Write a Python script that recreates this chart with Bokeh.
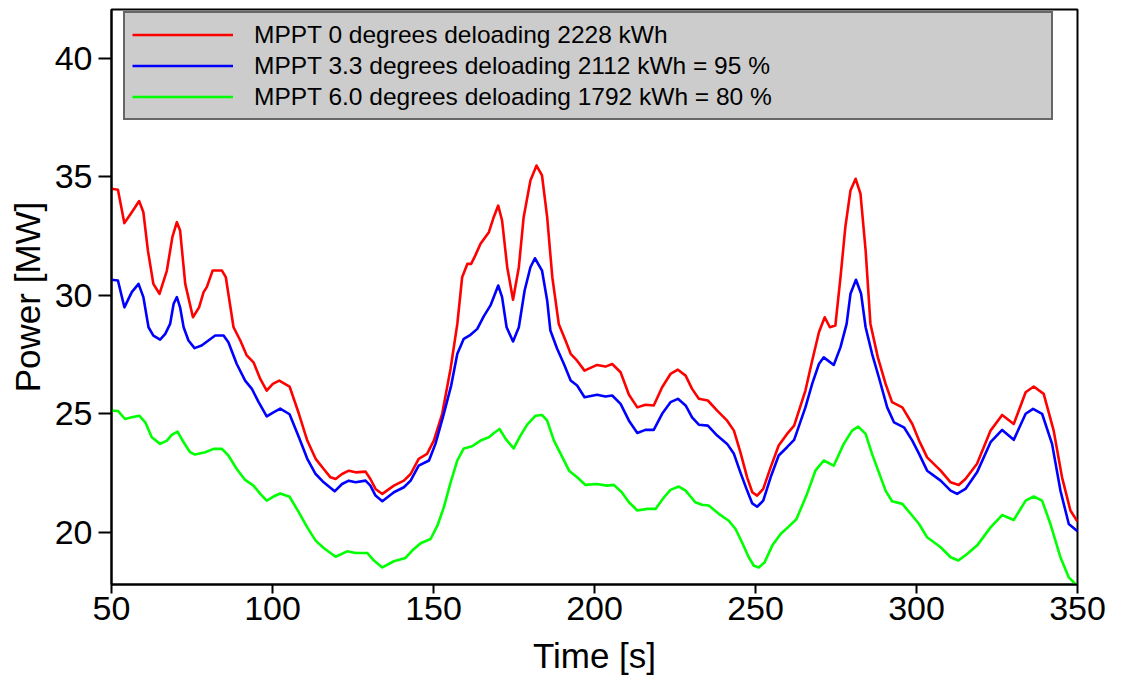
from bokeh.plotting import figure
from bokeh.models import Range1d, Legend, LegendItem, FixedTicker
from bokeh.embed import file_html
from bokeh.resources import INLINE

# ---- data ----
red_x = [50.0, 52.0, 54.0, 56.3, 58.6, 59.9, 61.3, 63.0, 64.9, 67.2, 68.9, 70.3, 71.3, 72.9, 75.3, 77.2,
         78.6, 79.6, 81.4, 84.3, 85.5, 87.9, 90.0, 92.0, 94.1, 96.2, 98.2, 100.1, 102.1, 105.3, 108.2,
         110.8, 113.4, 115.9, 118.0, 119.6, 121.6, 123.7, 125.8, 128.9, 130.4, 132.0, 134.1, 137.7,
         140.8, 142.9, 145.4, 148.0, 150.1, 152.7, 155.3, 157.4, 158.9, 160.5, 161.7, 163.0, 164.6,
         167.2, 168.7, 170.1, 171.3, 172.9, 174.7, 176.5, 178.0, 180.1, 182.0, 183.7, 185.3, 186.9,
         188.9, 191.0, 192.6, 194.6, 196.9, 200.8, 203.4, 205.5, 208.1, 210.7, 213.3, 215.8, 218.4,
         221.0, 223.6, 225.9, 228.3, 230.3, 232.4, 235.2, 238.1, 241.2, 243.3, 245.3, 247.4, 249.0,
         250.5, 252.4, 254.7, 257.2, 259.8, 262.0, 265.5, 267.6, 269.7, 271.5, 273.1, 274.8, 276.4,
         277.9, 279.5, 281.1, 282.6, 284.2, 285.7, 288.0, 290.4, 292.4, 295.6, 298.7, 300.8, 303.3,
         307.5, 310.6, 313.1, 315.2, 318.8, 323.0, 326.6, 330.2, 333.9, 336.4, 339.5, 342.6, 345.2,
         347.8, 350.0]
red_y = [34.49, 34.45, 33.04, 33.50, 33.97, 33.50, 31.89, 30.48, 30.06, 31.04, 32.45, 33.08, 32.73, 30.48,
         29.07, 29.49, 30.13, 30.34, 31.04, 31.04, 30.76, 28.65, 28.09, 27.46, 27.17, 26.47, 25.98,
         26.26, 26.40, 26.15, 25.00, 23.87, 23.10, 22.67, 22.32, 22.25, 22.46, 22.60, 22.53, 22.56,
         22.25, 21.83, 21.62, 21.97, 22.18, 22.46, 23.10, 23.31, 23.87, 25.00, 26.90, 28.79, 30.76,
         31.32, 31.32, 31.68, 32.17, 32.66, 33.29, 33.78, 33.15, 31.18, 29.81, 31.18, 33.29, 34.84,
         35.47, 35.05, 33.29, 30.76, 28.79, 28.09, 27.53, 27.24, 26.82, 27.06, 26.99, 27.10, 26.75,
         25.80, 25.27, 25.38, 25.35, 26.12, 26.68, 26.86, 26.61, 26.05, 25.63, 25.56, 25.13, 24.71,
         24.29, 23.38, 22.32, 21.69, 21.55, 21.83, 22.74, 23.66, 24.15, 24.50, 25.98, 27.24, 28.44,
         29.07, 28.65, 28.72, 30.76, 32.87, 34.42, 34.91, 34.28, 31.89, 28.79, 27.38, 26.26, 25.49,
         25.27, 24.57, 23.87, 23.16, 22.60, 22.11, 22.00, 22.25, 22.89, 24.29, 24.95, 24.57, 25.91,
         26.15, 25.84, 24.29, 22.32, 20.92, 20.45]

blue_x = [50.0, 52.0, 54.0, 56.3, 58.4, 59.9, 61.5, 63.0, 65.1, 66.7, 68.2, 69.3, 70.3, 71.3, 72.4, 73.9,
          75.8, 78.0, 80.1, 82.2, 84.8, 86.3, 88.9, 91.5, 93.6, 95.7, 98.2, 100.3, 102.4, 105.3, 108.2,
          110.8, 113.4, 115.9, 119.3, 121.6, 123.7, 125.8, 128.9, 130.4, 132.0, 134.1, 137.7, 140.8,
          142.9, 145.4, 148.6, 150.6, 153.2, 155.5, 157.4, 159.4, 161.5, 163.6, 165.6, 167.7, 170.1,
          171.3, 172.7, 174.7, 176.5, 178.3, 180.1, 181.5, 183.7, 185.3, 186.3, 188.4, 190.5, 192.6,
          194.6, 196.9, 200.8, 203.4, 205.5, 208.1, 210.7, 213.3, 215.8, 218.4, 221.0, 223.6, 225.9,
          228.3, 230.3, 232.4, 235.2, 238.1, 241.2, 243.3, 245.3, 247.4, 249.0, 250.5, 252.4, 254.7,
          257.2, 259.8, 262.0, 265.5, 267.6, 269.7, 271.2, 274.3, 276.4, 278.3, 279.5, 281.2, 282.8,
          284.2, 286.2, 288.3, 290.9, 293.0, 296.1, 298.7, 300.8, 303.3, 307.5, 310.6, 312.6, 315.2,
          318.8, 323.0, 326.6, 330.2, 333.9, 336.2, 339.0, 342.1, 344.7, 347.3, 350.0]
blue_y = [30.65, 30.62, 29.49, 30.13, 30.48, 29.92, 28.65, 28.30, 28.13, 28.37, 28.79, 29.64, 29.92, 29.49,
          28.65, 28.09, 27.77, 27.88, 28.09, 28.30, 28.30, 28.02, 27.10, 26.40, 26.05, 25.49, 24.89,
          25.06, 25.22, 24.98, 24.01, 23.10, 22.46, 22.11, 21.73, 22.04, 22.18, 22.11, 22.18, 21.97,
          21.55, 21.31, 21.69, 21.90, 22.18, 22.81, 23.03, 23.73, 25.00, 26.20, 27.53, 28.16, 28.33,
          28.58, 29.11, 29.57, 30.41, 29.92, 28.65, 28.05, 28.65, 30.20, 31.18, 31.56, 31.04, 29.78,
          28.51, 27.74, 27.10, 26.40, 26.19, 25.70, 25.80, 25.73, 25.77, 25.42, 24.71, 24.19, 24.32,
          24.32, 25.00, 25.49, 25.63, 25.35, 24.85, 24.54, 24.50, 24.08, 23.73, 23.31, 22.53, 21.76,
          21.22, 21.08, 21.34, 22.32, 23.24, 23.59, 23.90, 25.27, 26.26, 27.10, 27.38, 27.06, 27.81,
          28.79, 30.06, 30.65, 30.06, 28.65, 27.53, 26.54, 25.27, 24.64, 24.43, 23.87, 23.31, 22.60,
          22.18, 21.76, 21.62, 21.83, 22.53, 23.80, 24.32, 23.90, 25.00, 25.21, 25.00, 23.73, 21.76,
          20.35, 20.05]

green_x = [50.0, 52.0, 54.2, 56.3, 58.6, 60.5, 62.5, 65.1, 67.2, 68.7, 70.5, 72.4, 74.4, 75.9, 79.1, 81.7,
           84.3, 86.3, 88.9, 91.5, 94.1, 96.2, 98.2, 100.3, 102.4, 105.3, 108.2, 110.8, 113.4, 115.9,
           119.6, 123.2, 125.8, 129.4, 131.5, 134.1, 137.7, 141.3, 143.4, 146.0, 149.1, 151.2, 153.2,
           155.3, 157.4, 159.4, 162.0, 164.6, 167.2, 168.7, 170.5, 172.4, 174.9, 177.0, 179.1, 181.7,
           183.7, 185.3, 187.4, 189.5, 192.1, 194.6, 197.2, 200.8, 203.9, 206.0, 208.4, 210.7, 213.3,
           216.4, 219.0, 221.6, 223.6, 226.2, 228.3, 231.3, 233.4, 235.5, 238.6, 241.7, 243.8, 245.8,
           247.9, 249.5, 251.0, 252.8, 255.2, 257.8, 260.3, 262.7, 266.0, 268.6, 271.2, 274.3, 277.4,
           280.0, 281.9, 284.2, 286.2, 288.3, 290.4, 292.4, 295.6, 298.7, 300.8, 303.3, 307.5, 310.6,
           313.0, 315.7, 318.8, 323.0, 326.6, 330.2, 333.9, 336.4, 339.0, 341.6, 344.7, 347.3, 349.9]
green_y = [25.14, 25.12, 24.78, 24.85, 24.92, 24.64, 24.01, 23.73, 23.87, 24.11, 24.25, 23.80, 23.38, 23.28,
           23.38, 23.52, 23.52, 23.24, 22.67, 22.21, 21.97, 21.62, 21.34, 21.51, 21.64, 21.50, 20.84,
           20.21, 19.65, 19.34, 18.97, 19.20, 19.13, 19.13, 18.81, 18.52, 18.78, 18.92, 19.23, 19.54,
           19.72, 20.28, 21.05, 22.10, 23.03, 23.54, 23.63, 23.87, 24.01, 24.18, 24.36, 23.94, 23.54,
           24.08, 24.54, 24.92, 24.95, 24.71, 23.87, 23.31, 22.60, 22.32, 22.00, 22.04, 21.97, 22.00,
           21.70, 21.27, 20.92, 20.99, 20.99, 21.48, 21.79, 21.93, 21.76, 21.27, 21.16, 21.13, 20.78,
           20.49, 20.14, 19.58, 18.95, 18.59, 18.52, 18.73, 19.44, 19.93, 20.24, 20.55, 21.62, 22.60,
           23.03, 22.81, 23.73, 24.29, 24.46, 24.15, 23.31, 22.53, 21.76, 21.31, 21.20, 20.70, 20.35,
           19.79, 19.37, 18.95, 18.81, 19.09, 19.44, 20.21, 20.73, 20.52, 21.34, 21.51, 21.34, 20.35,
           18.95, 18.10, 17.75]

labels = ["MPPT 0 degrees deloading 2228 kWh",
          "MPPT 3.3 degrees deloading 2112 kWh = 95 %",
          "MPPT 6.0 degrees deloading 1792 kWh = 80 %"]
colors = ["#ff0000", "#0000ff", "#00ff00"]
x_ticks = [50, 100, 150, 200, 250, 300, 350]
y_ticks = [20, 25, 30, 35, 40]

FONT = "Liberation Sans"

p = figure(frame_width=966, frame_height=575,
           min_border_left=111, min_border_top=9, min_border_right=30, min_border_bottom=92,
           x_range=Range1d(50, 350), y_range=Range1d(17.8, 42.05),
           output_backend="svg", toolbar_location=None)

r1 = p.line(red_x, red_y, line_color=colors[0], line_width=2.6, line_join="round")
r2 = p.line(blue_x, blue_y, line_color=colors[1], line_width=2.6, line_join="round")
r3 = p.line(green_x, green_y, line_color=colors[2], line_width=2.6, line_join="round")

p.xgrid.visible = False
p.ygrid.visible = False
p.outline_line_color = "black"
p.outline_line_width = 2
p.outline_line_alpha = 1
p.background_fill_color = "white"
p.border_fill_color = "white"

for ax in (p.xaxis[0], p.yaxis[0]):
    ax.axis_line_color = "black"
    ax.axis_line_width = 2
    ax.major_tick_line_color = "black"
    ax.major_tick_line_width = 2
    ax.major_tick_in = 0
    ax.minor_tick_line_color = None
    ax.major_label_text_font = FONT
    ax.major_label_text_font_size = "34px"
    ax.major_label_text_color = "black"
    ax.axis_label_text_font = FONT
    ax.axis_label_text_font_size = "35px"
    ax.axis_label_text_font_style = "normal"
    ax.axis_label_text_color = "black"

p.xaxis[0].ticker = FixedTicker(ticks=x_ticks)
p.yaxis[0].ticker = FixedTicker(ticks=y_ticks)
p.xaxis[0].major_tick_out = 9
p.yaxis[0].major_tick_out = 13
p.xaxis[0].major_label_standoff = 3
p.yaxis[0].major_label_standoff = 6
p.xaxis[0].axis_label = "Time [s]"
p.yaxis[0].axis_label = "Power [MW]"
p.xaxis[0].axis_label_standoff = 13
p.yaxis[0].axis_label_standoff = 5

legend = Legend(items=[LegendItem(label=labels[0], renderers=[r1]),
                       LegendItem(label=labels[1], renderers=[r2]),
                       LegendItem(label=labels[2], renderers=[r3])],
                location=(12, 464),
                padding=7, spacing=2, margin=0,
                glyph_width=101, glyph_height=29, label_height=29,
                label_standoff=21, label_width=790,
                label_text_font=FONT, label_text_font_size="24.5px", label_text_color="black",
                border_line_color="black", border_line_width=2,
                background_fill_color="#cccccc", background_fill_alpha=1.0)
p.add_layout(legend, "center")

open("out.html", "w").write(file_html(p, INLINE))
